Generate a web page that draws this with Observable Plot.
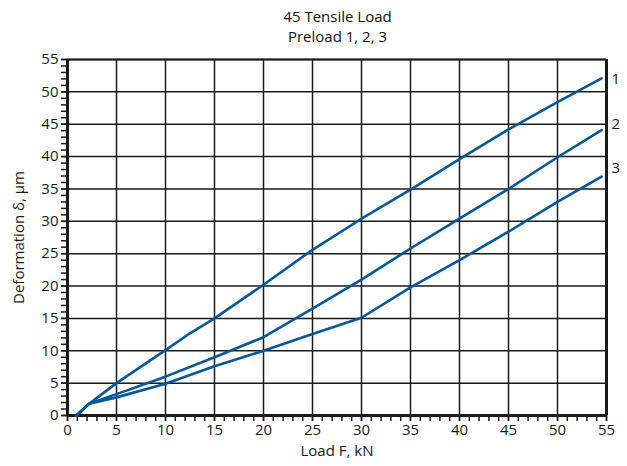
<!DOCTYPE html>
<html>
<head>
<meta charset="utf-8">
<script src="https://cdn.jsdelivr.net/npm/d3@7"></script>
<script src="https://cdn.jsdelivr.net/npm/@observablehq/plot@0.6"></script>
<style>
  html, body { margin: 0; padding: 0; background: #fff; }
  #wrap { width: 627px; height: 466px; overflow: hidden; font-family: "Open Sans", "Noto Sans", sans-serif; }
  #title { height: 50px; text-align: center; font-size: 15px; line-height: 20px; color: #111; padding-top: 6px; box-sizing: border-box; padding-left: 48px; }
</style>
</head>
<body>
<div id="wrap">
  <div id="title">45 Tensile Load<br>Preload 1, 2, 3</div>
  <div id="chart"></div>
</div>
<script>
// Series data (Load F in kN, Deformation in µm)
const load1 = [0.9, 2.2, 5, 10, 12.5, 15, 20, 25, 30, 35, 40, 45, 50, 54.5];
const def1  = [0, 1.8, 5, 10.1, 12.7, 15, 20.2, 25.6, 30.4, 34.9, 39.6, 44.2, 48.4, 52.1];

const load2 = [0.9, 2.2, 5, 10, 15, 20, 25, 30, 35, 40, 45, 50, 54.5];
const def2  = [0, 1.8, 3.3, 6.0, 9.0, 12.1, 16.5, 21.0, 25.8, 30.4, 35.0, 39.9, 44.1];

const load3 = [0.9, 2.2, 5, 10, 15, 20, 25, 30, 35, 40, 45, 50, 54.5];
const def3  = [0, 1.8, 2.8, 4.9, 7.6, 10.0, 12.6, 15.1, 19.8, 24.0, 28.4, 33.0, 36.9];

const seriesNames = ["1", "2", "3"];
const labelY = [51.9, 45.0, 38.2];

const xMajor = d3.range(0, 56, 5);
const xMinor = d3.range(0, 56, 1);
const yMajor = d3.range(0, 56, 5);
const yMinor = d3.range(0, 56, 1);

const lines = [];
[[load1, def1], [load2, def2], [load3, def3]].forEach(([xs, ys], i) => {
  xs.forEach((x, j) => lines.push({series: seriesNames[i], x, y: ys[j]}));
});
const labels = seriesNames.map((s, i) => ({s, y: labelY[i]}));

const blue = "#00589b";
const ink = "#1a1a1a";

const chart = Plot.plot({
  width: 627,
  height: 416,
  marginLeft: 67,
  marginRight: 21,
  marginTop: 9,
  marginBottom: 51,
  style: {fontFamily: "'Open Sans', 'Noto Sans', sans-serif", fontSize: "15px", color: ink, background: "white", overflow: "visible"},
  x: {domain: [0, 55]},
  y: {domain: [0, 55]},
  marks: [
    Plot.gridX(xMajor, {stroke: ink, strokeOpacity: 1, strokeWidth: 1.5}),
    Plot.gridY(yMajor, {stroke: ink, strokeOpacity: 1, strokeWidth: 1.5}),
    Plot.axisX(xMinor, {tickSize: 6, tickFormat: () => "", stroke: ink, strokeWidth: 1.5, label: null}),
    Plot.axisX(xMajor, {tickSize: 6, tickPadding: 3, stroke: ink, strokeWidth: 1.5, fontSize: 15, fill: ink, label: null}),
    Plot.axisY(yMinor, {tickSize: 6, tickFormat: () => "", stroke: ink, strokeWidth: 1.5, label: null}),
    Plot.axisY(yMajor, {tickSize: 6, tickPadding: 3, stroke: ink, strokeWidth: 1.5, fontSize: 15, fill: ink, label: null}),
    Plot.ruleX([0], {stroke: ink, strokeWidth: 3}),
    Plot.ruleX([55], {stroke: ink, strokeWidth: 3}),
    Plot.ruleY([0], {stroke: ink, strokeWidth: 3}),
    Plot.ruleY([55], {stroke: ink, strokeWidth: 2}),
    Plot.line(lines, {x: "x", y: "y", z: "series", stroke: blue, strokeWidth: 2.6, strokeLinejoin: "round"}),
    Plot.text(labels, {x: () => 55, y: "y", text: "s", dx: 5, textAnchor: "start", fontSize: 15, fill: ink}),
    Plot.text(["Load F, kN"], {frameAnchor: "bottom", dy: 40, fontSize: 15, fill: ink}),
    Plot.text(["Deformation δ, µm"], {frameAnchor: "left", textAnchor: "middle", rotate: -90, dx: -48, fontSize: 15, fill: ink})
  ]
});
document.getElementById("chart").appendChild(chart);
</script>
</body>
</html>
